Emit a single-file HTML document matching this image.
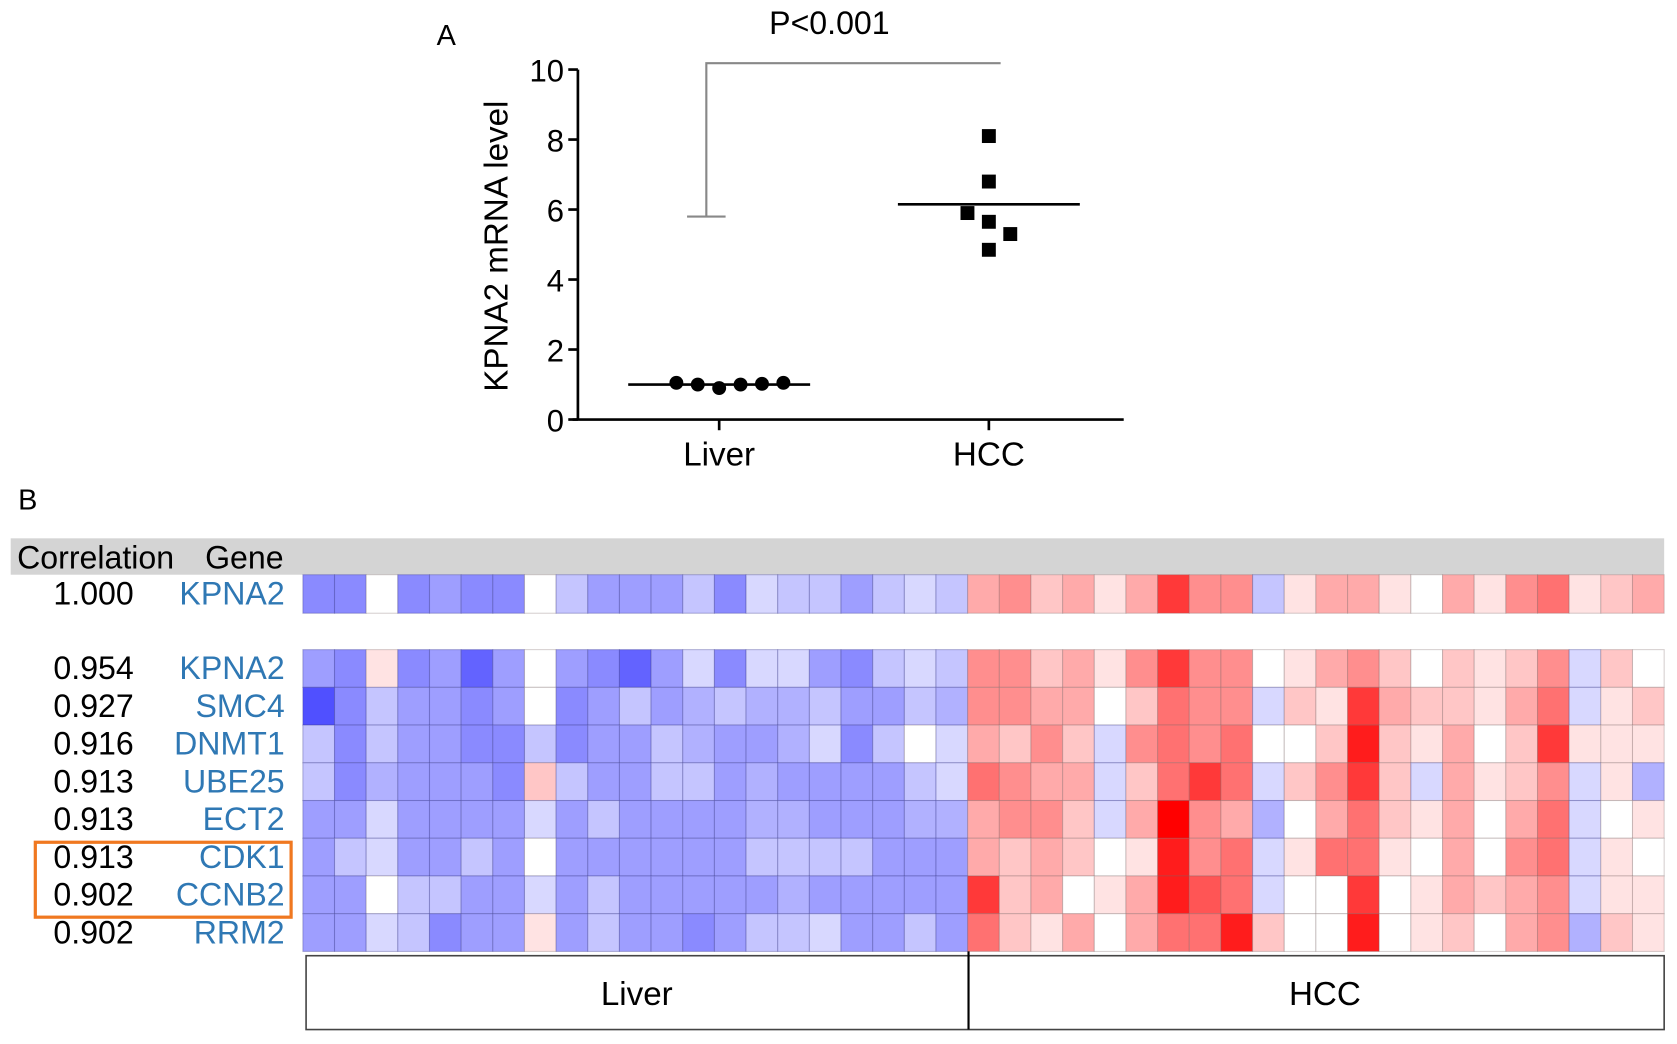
<!DOCTYPE html>
<html><head><meta charset="utf-8"><style>
html,body{margin:0;padding:0;background:#fff;}
svg{display:block;font-family:"Liberation Sans",Arial,sans-serif;}
</style></head><body>
<svg id="fig" width="1677" height="1044" viewBox="0 0 1567 975.5" preserveAspectRatio="none" xmlns="http://www.w3.org/2000/svg">
<text x="408" y="42" font-size="27">A</text>
<text x="775" y="32" font-size="30" text-anchor="middle">P&lt;0.001</text>
<g id="plotA"></g>
<text x="17" y="476" font-size="27">B</text>
<rect x="10" y="503" width="1545" height="34" fill="#d4d4d4"/>
<text x="16" y="531" font-size="30">Correlation</text>
<text x="265" y="531" font-size="30" text-anchor="end">Gene</text>
<g id="heat"></g>
<rect x="33" y="787" width="239" height="70" fill="none" stroke="#f07820" stroke-width="3"/>
<rect x="286" y="893" width="1269" height="69" fill="none" stroke="#444" stroke-width="1.5"/>
<line x1="905" y1="889" x2="905" y2="962" stroke="#000" stroke-width="2"/>
<text x="595" y="939" font-size="31" text-anchor="middle">Liver</text>
<text x="1238" y="939" font-size="31" text-anchor="middle">HCC</text>
</svg>
<script>
const yTicks=[0,2,4,6,8,10];
const groups=["Liver","HCC"];
const liverVals=[1.05,1.0,0.9,1.0,1.02,1.05];
const hccVals=[8.1,6.8,5.9,5.65,5.3,4.85];
const hccOffsets=[0,0,-1,0,1,0];
const groupMeans=[1.0,6.15];
const bracketLow=5.8;

const correlations=["1.000","0.954","0.927","0.916","0.913","0.913","0.913","0.902","0.902"];
const genes=["KPNA2","KPNA2","SMC4","DNMT1","UBE25","ECT2","CDK1","CCNB2","RRM2"];
const liverHeat=[
[-6,-6,0,-6,-5,-6,-6,0,-3,-5,-5,-5,-3,-6,-2,-3,-3,-5,-3,-2,-3],
[-5,-6,1,-6,-5,-8,-5,0,-5,-6,-8,-5,-2,-6,-2,-2,-5,-6,-3,-2,-3],
[-9,-6,-3,-5,-5,-6,-5,0,-6,-5,-3,-5,-4,-3,-4,-4,-3,-5,-5,-3,-4],
[-3,-6,-3,-5,-5,-6,-6,-3,-6,-5,-5,-3,-4,-5,-5,-4,-2,-6,-3,0,-2],
[-3,-6,-4,-5,-5,-5,-6,2,-3,-5,-5,-3,-3,-5,-4,-5,-5,-5,-5,-3,-2],
[-5,-5,-2,-5,-5,-5,-5,-2,-5,-3,-5,-5,-5,-5,-4,-4,-5,-5,-5,-4,-4],
[-5,-3,-2,-5,-5,-3,-5,0,-5,-5,-5,-5,-5,-5,-3,-3,-3,-3,-5,-5,-5],
[-5,-5,0,-3,-3,-5,-5,-2,-5,-3,-5,-5,-5,-5,-5,-4,-5,-5,-5,-5,-5],
[-5,-5,-2,-3,-6,-5,-5,1,-5,-3,-5,-5,-6,-5,-3,-3,-2,-5,-5,-3,-5]];
const hccHeat=[
[3,4,2,3,1,3,7,4,4,-3,1,3,3,1,0,3,1,4,5,1,2,3],
[4,4,2,3,1,4,7,4,4,0,1,3,4,2,0,2,1,2,4,-2,2,0],
[4,4,3,3,0,2,5,4,4,-2,2,1,7,3,2,2,1,3,5,-2,1,2],
[3,2,4,2,-2,4,5,4,5,0,0,2,8,2,1,3,0,2,7,1,1,1],
[5,4,3,3,-2,2,5,7,5,-2,2,4,7,2,-2,3,1,2,4,-2,1,-4],
[3,4,4,2,-2,3,9,4,3,-4,0,3,5,2,1,3,0,3,5,-2,0,1],
[3,2,3,2,0,1,8,4,5,-2,1,5,5,1,0,3,0,4,5,-2,1,0],
[7,2,3,0,1,3,8,6,5,-2,0,0,7,0,1,3,2,3,4,-2,1,1],
[5,2,1,3,0,3,5,5,8,2,0,0,8,0,1,2,0,3,4,-4,2,1]];

const NS="http://www.w3.org/2000/svg";
function mk(tag,attrs,parent,txt){const e=document.createElementNS(NS,tag);for(const k in attrs)e.setAttribute(k,attrs[k]);if(txt!==undefined)e.textContent=txt;parent.appendChild(e);return e;}

const A=document.getElementById('plotA');
const y=v=>392-v*(392-65)/10;
const xg=i=>[672,924][i];
let e;
e=mk('line',{x1:540,y1:y(0),x2:540,y2:y(10),stroke:'#000','stroke-width':2.5},A);


e=mk('line',{x1:535,y1:y(0),x2:1050,y2:y(0),stroke:'#000','stroke-width':2.5},A);


yTicks.forEach(t=>{
 e=mk('line',{x1:531,y1:y(t),x2:540,y2:y(t),stroke:'#000','stroke-width':2.5},A);
 
 
 e=mk('text',{x:527,y:y(t)+11,'font-size':29,'text-anchor':'end'},A,String(t));
 
 
});
groups.forEach((g,i)=>{
 e=mk('line',{x1:xg(i),y1:y(0),x2:xg(i),y2:y(0)+10,stroke:'#000','stroke-width':2.5},A);
 
 
 e=mk('text',{x:xg(i),y:435,'font-size':31,'text-anchor':'middle'},A,g);
 
 
});
e=mk('text',{x:0,y:0,'font-size':31,'text-anchor':'middle',transform:'translate(474,230) rotate(-90)'},A,'KPNA2 mRNA level');


e=mk('path',{d:`M642 ${y(bracketLow)} H678 M660 ${y(bracketLow)} V59 H935 V59`,fill:'none',stroke:'#888','stroke-width':2},A);


liverVals.forEach((v,i)=>{
 e=mk('circle',{cx:xg(0)-40+i*20,cy:y(v),r:6.5,fill:'#000'},A);
 
 
});
hccVals.forEach((v,i)=>{
 const cx=xg(1)+hccOffsets[i]*20;
 e=mk('rect',{x:cx-6.5,y:y(v)-6.5,width:13,height:13,fill:'#000'},A);
 
 
});
groupMeans.forEach((m,i)=>{
 e=mk('line',{x1:xg(i)-85,y1:y(m),x2:xg(i)+85,y2:y(m),stroke:'#000','stroke-width':2.5},A);
 
 
});

const H=document.getElementById('heat');
const x0=283,x1=1555,nCols=43,cw=(x1-x0)/nCols;
const rowY=r=>r===0?537:607+(r-1)*35.25;
const rowH=r=>r===0?36:35.25;
function col(v){const t=Math.min(Math.abs(v),9)/9;
 if(v<0){const c=Math.round(255-t*175);return `rgb(${c},${c},255)`;}
 const c=Math.round(255-t*255);return `rgb(255,${c},${c})`;}
for(let r=0;r<9;r++){
 const vals=liverHeat[r].concat(hccHeat[r]);
 vals.forEach((v,c)=>{
  e=mk('rect',{x:x0+c*cw,y:rowY(r),width:cw,height:rowH(r),fill:col(v),stroke:v<0?'rgba(60,60,140,0.35)':'rgba(120,100,100,0.3)','stroke-width':1},H);
  
  
 });
 const ty=rowY(r)+rowH(r)/2+10;
 e=mk('text',{x:125,y:ty,'font-size':30,'text-anchor':'end'},H,correlations[r]);
 
 
 e=mk('text',{x:266,y:ty,'font-size':30,'text-anchor':'end',fill:'#2f78b4'},H,genes[r]);
 
 
}
</script>
</body></html>
